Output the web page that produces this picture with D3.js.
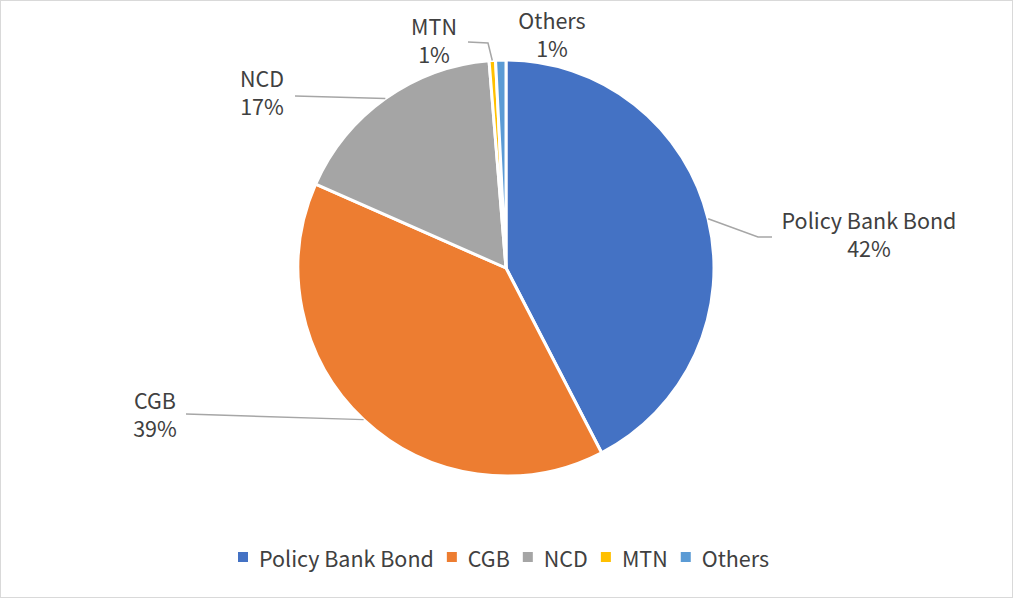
<!DOCTYPE html>
<html>
<head>
<meta charset="utf-8">
<script src="https://cdn.jsdelivr.net/npm/d3@7"></script>
<style>
  body { margin: 0; background: #fff; }
  svg { display: block; font-family: "Noto Sans CJK SC", "Noto Sans", sans-serif; }
</style>
</head>
<body>
<svg id="chart" width="1013" height="598"></svg>
<script>
// data (percent of holdings)
const categories = ["Policy Bank Bond", "CGB", "NCD", "MTN", "Others"];
const shares = [42.4, 39.2, 17.1, 0.5, 0.8];
const colors = ["#4472c4", "#ed7d31", "#a5a5a5", "#ffc000", "#5b9bd5"];

const width = 1013;
const height = 598;
const cx = 506, cy = 268, radius = 208;

const svg = d3.select("#chart");

// chart frame
svg.append("rect")
  .attr("x", 0.5).attr("y", 0.5)
  .attr("width", width - 1).attr("height", height - 1)
  .attr("fill", "#fff")
  .attr("stroke", "#d9d9d9");

const data = categories.map((c, i) => ({ name: c, value: shares[i], color: colors[i] }));

const pie = d3.pie().sort(null).value(d => d.value);
const arc = d3.arc().innerRadius(0).outerRadius(radius);
const arcs = pie(data);

const g = svg.append("g").attr("transform", `translate(${cx},${cy})`);

g.selectAll("path")
  .data(arcs)
  .join("path")
  .attr("d", arc)
  .attr("fill", d => d.data.color)
  .attr("stroke", "#fff")
  .attr("stroke-width", 3)
  .attr("stroke-linejoin", "round");

// label layout (text centre relative to pie centre, elbow of leader line)
const labelPos = {
  "Policy Bank Bond": { dx: 363, dy: -39, elbow: [252, -31], end: [266, -31] },
  "CGB": { dx: -351, dy: 141, elbow: null, end: [-320, 146] },
  "NCD": { dx: -244, dy: -181, elbow: null, end: [-211, -172] },
  "MTN": { dx: -72, dy: -233, elbow: [-18, -225], end: [-38, -226] },
  "Others": { dx: 46, dy: -239, elbow: null, end: null }
};

const onEdge = (a, r) => [Math.sin(a) * r, -Math.cos(a) * r];

arcs.forEach(d => {
  const lp = labelPos[d.data.name];
  const mid = (d.startAngle + d.endAngle) / 2;
  if (lp.end) {
    const pts = [onEdge(mid, radius)];
    if (lp.elbow) pts.push(lp.elbow);
    pts.push(lp.end);
    g.append("path")
      .attr("d", d3.line()(pts))
      .attr("fill", "none")
      .attr("stroke", "#a6a6a6")
      .attr("stroke-width", 1.5);
  }
  const t = g.append("text")
    .attr("x", lp.dx)
    .attr("y", lp.dy)
    .attr("text-anchor", "middle")
    .attr("fill", "#404040")
    .style("font-size", "21.5px");
  t.append("tspan").attr("x", lp.dx).attr("dy", 0).text(d.data.name);
  t.append("tspan").attr("x", lp.dx).attr("dy", 28).text(Math.round(d.data.value) + "%");
});

// legend
const legend = svg.append("g").attr("transform", "translate(0,557)");
let lx = 238;
data.forEach(d => {
  const item = legend.append("g").attr("transform", `translate(${lx},0)`);
  item.append("rect")
    .attr("x", 0).attr("y", -5)
    .attr("width", 10).attr("height", 10)
    .attr("fill", d.color);
  const txt = item.append("text")
    .attr("x", 21).attr("y", 0)
    .attr("dominant-baseline", "central")
    .attr("fill", "#404040")
    .style("font-size", "21.5px")
    .text(d.name);
  lx += 21 + txt.node().getComputedTextLength() + 13;
});
</script>
</body>
</html>
